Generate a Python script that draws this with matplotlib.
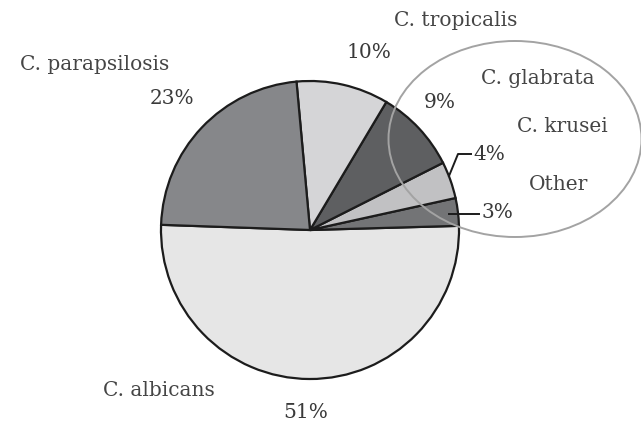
import matplotlib
matplotlib.use("Agg")
import matplotlib.pyplot as plt
from matplotlib.patches import Ellipse

# Data
species = ["C. albicans", "Other", "C. krusei", "C. glabrata", "C. tropicalis", "C. parapsilosis"]
shares = [51, 3, 4, 9, 10, 23]
pct_labels = ["51%", "3%", "4%", "9%", "10%", "23%"]
colors = ["#e6e6e6", "#737476", "#c1c1c3", "#5e5f61", "#d5d5d7", "#86878a"]

W, H = 641, 421
fig = plt.figure(figsize=(W / 100, H / 100), dpi=100)
ax = fig.add_axes([0, 0, 1, 1])

def Y(py):
    return H - py

ax.pie(shares, colors=colors, startangle=178, counterclock=True,
       center=(310, Y(230)), radius=149, frame=True,
       wedgeprops=dict(edgecolor="#1c1c1c", linewidth=1.6))
ax.set_xlim(0, W)
ax.set_ylim(0, H)
ax.set_aspect("equal")
ax.axis("off")

name_txt = dict(family="DejaVu Serif", fontsize=14.5, color="#454545", ha="center", va="center")
pct_txt = dict(family="DejaVu Serif", fontsize=14.5, color="#3a3a3a", ha="center", va="center")
name_pos = {"C. albicans": (159, 390), "Other": (559, 185), "C. krusei": (562, 127),
            "C. glabrata": (538, 78), "C. tropicalis": (456, 20), "C. parapsilosis": (95, 65)}
pct_pos = [(306, 412), (497, 212), (489, 155), (440, 103), (369, 52), (172, 98)]

for name, p, (px, py) in zip(species, pct_labels, pct_pos):
    nx, ny = name_pos[name]
    ax.text(nx, Y(ny), name, **name_txt)
    ax.text(px, Y(py), p, **pct_txt)

# leader lines
ax.plot([471, 458, 449], [Y(154), Y(154), Y(176)], color="#1c1c1c", lw=1.4, zorder=5)
ax.plot([479, 449], [Y(214), Y(214)], color="#1c1c1c", lw=1.4, zorder=5)

# ellipse around small-slice labels
ax.add_patch(Ellipse((515, Y(139)), 253, 196, fill=False, edgecolor="#a3a3a3", lw=1.4, zorder=6))

fig.savefig("out.png", dpi=100)
